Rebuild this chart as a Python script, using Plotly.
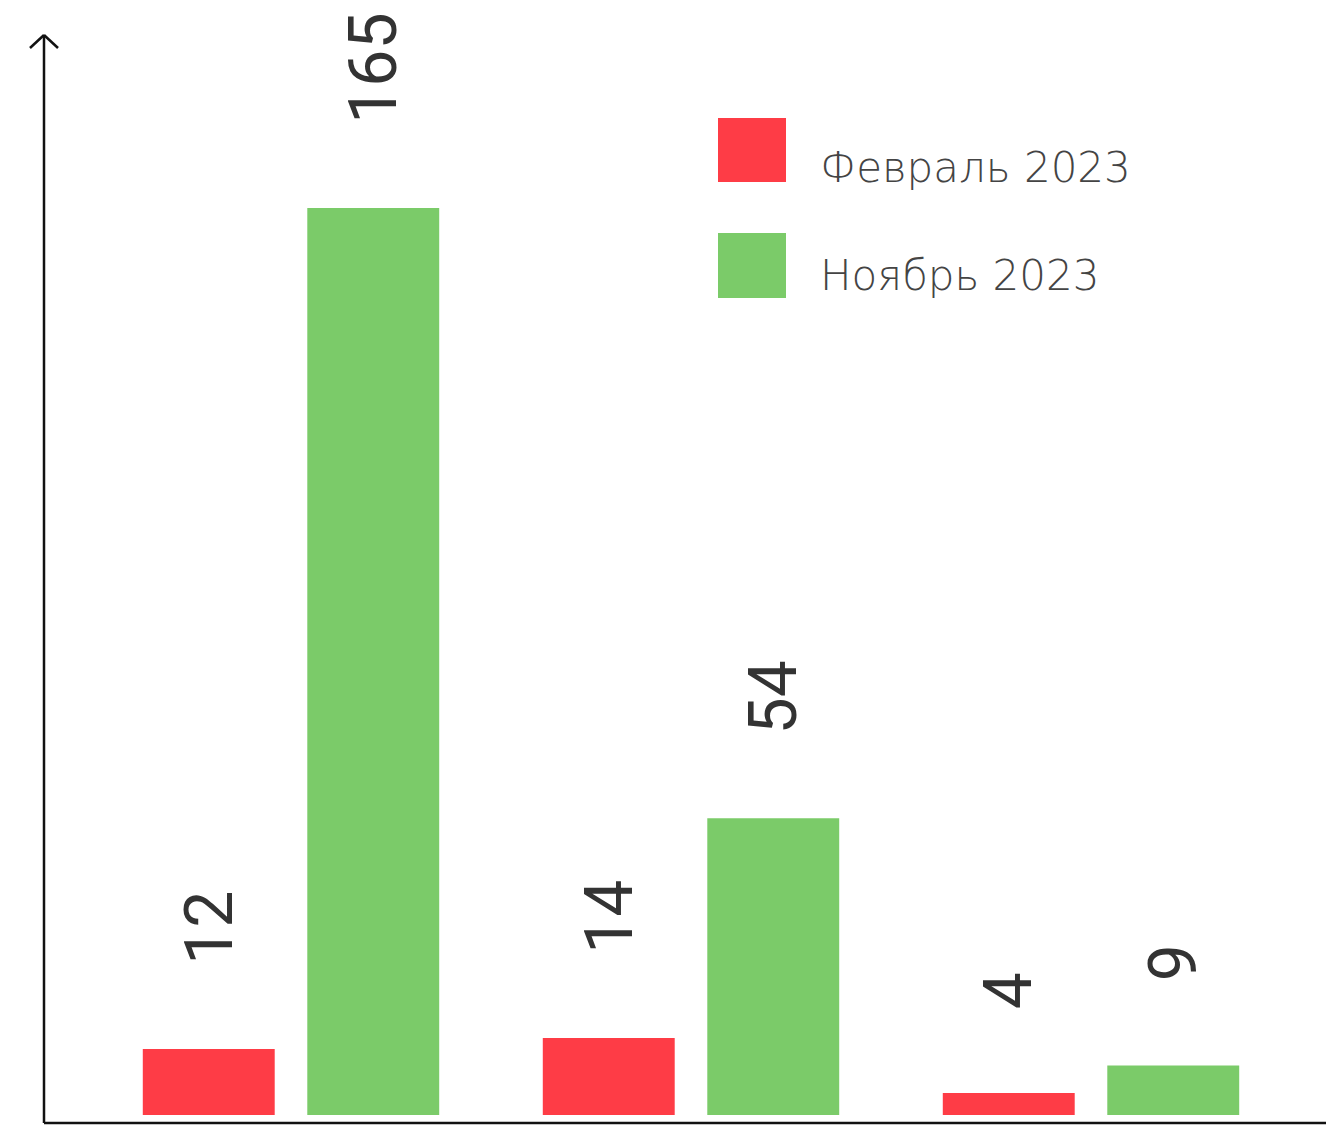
import plotly.graph_objects as go

categories = ["Группа 1", "Группа 2", "Группа 3"]
series_names = ["Февраль 2023", "Ноябрь 2023"]
feb_values = [12, 14, 4]
nov_values = [165, 54, 9]
colors = ["#FE3C46", "#7BCB69"]

OFF = 8  # page body margin
W, H = 1334 - OFF, 1139 - 2 * OFF
ML, MR, MT = 44 - OFF, 0, 35 - OFF
MB = H - (1123 - OFF)
PW, PH = W - ML - MR, H - MT - MB

def px(xp):
    return (xp - OFF - ML) / PW

def py(yp):
    return (H - MB - (yp - OFF)) / PH

BARGAP = 0.1775
GROUPGAP = 0.198

fig = go.Figure()
series = [feb_values, nov_values]
for name, vals, col in zip(series_names, series, colors):
    fig.add_trace(go.Bar(
        x=list(range(len(categories))), y=vals, name=name,
        marker=dict(color=col, line=dict(width=0)),
        hoverinfo="x+y+name",
    ))

# value labels, rotated, above bars
slot = (1 - BARGAP) / len(series)
ann = []
for si, vals in enumerate(series):
    off = -(1 - BARGAP) / 2 + slot * (si + 0.5)
    for ci, v in enumerate(vals):
        ann.append(dict(
            x=ci + off, y=v, xref="x", yref="y", text=str(v),
            showarrow=False, textangle=-90, yanchor="bottom", xanchor="center",
            yshift=82, font=dict(family="Roboto", size=66, color="#333333"),
        ))

# legend (manual, large swatches)
legend_rows = [(118, 182, 168), (233, 298, 275)]
shapes = []
for (y0, y1, ty), name, col in zip(legend_rows, series_names, colors):
    shapes.append(dict(type="rect", xref="paper", yref="paper",
                       x0=px(718), x1=px(786), y0=py(y1), y1=py(y0),
                       fillcolor=col, line=dict(width=0)))
    ann.append(dict(x=px(818), y=py(ty), xref="paper", yref="paper", text=name,
                    showarrow=False, xanchor="left", yanchor="middle",
                    font=dict(family="DejaVu Sans", size=42, weight=300,
                              color="#444444")))

# axes with arrows
lc = dict(color="#111111", width=2.5)
ox, oy = px(44), py(1123)
shapes += [
    dict(type="line", xref="paper", yref="paper", x0=ox, y0=oy, x1=ox, y1=py(35), line=lc),
    dict(type="line", xref="paper", yref="paper", x0=ox, y0=py(35), x1=px(30), y1=py(48), line=lc),
    dict(type="line", xref="paper", yref="paper", x0=ox, y0=py(35), x1=px(58), y1=py(48), line=lc),
    dict(type="line", xref="paper", yref="paper", x0=ox, y0=oy, x1=px(1345), y1=oy, line=lc),
    dict(type="line", xref="paper", yref="paper", x0=px(1345), y0=oy, x1=px(1332), y1=py(1109), line=lc),
    dict(type="line", xref="paper", yref="paper", x0=px(1345), y0=oy, x1=px(1332), y1=py(1137), line=lc),
]

x0 = -0.6175
fig.update_layout(
    width=W, height=H,
    margin=dict(l=ML, r=MR, t=MT, b=MB, pad=0),
    paper_bgcolor="white", plot_bgcolor="white",
    barmode="group", bargap=BARGAP, bargroupgap=GROUPGAP,
    showlegend=False,
    xaxis=dict(range=[x0, x0 + PW / 400.0], showgrid=False, zeroline=False,
               showline=False, showticklabels=False, ticks="",
               tickvals=list(range(len(categories))), ticktext=categories),
    yaxis=dict(range=[-1.455, 196.47], showgrid=False, zeroline=False,
               showline=False, showticklabels=False, ticks=""),
    annotations=ann, shapes=shapes,
)

fig.write_html("out.html")
